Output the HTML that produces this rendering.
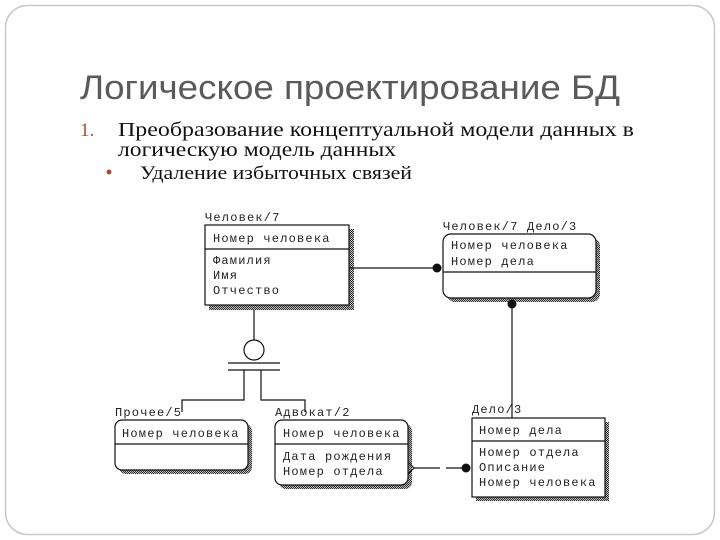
<!DOCTYPE html>
<html><head><meta charset="utf-8"><style>
html,body{margin:0;padding:0;background:#fff;}
svg{display:block}
.m{font-family:"Liberation Mono",monospace;font-size:12px;letter-spacing:1.2px;fill:#222}
</style></head><body>
<svg width="720" height="540" viewBox="0 0 720 540" xmlns="http://www.w3.org/2000/svg">
<defs>
<pattern id="sh" width="2" height="2" patternUnits="userSpaceOnUse"><rect width="2" height="2" fill="#bbb"/><rect width="1" height="1" fill="#333"/><rect x="1" y="1" width="1" height="1" fill="#333"/></pattern>
</defs>
<rect x="5.5" y="5.5" width="709" height="529" rx="22" fill="#fff" stroke="#c8c8c8" stroke-width="1.5"/>
<text x="80" y="99" font-family="Liberation Sans,sans-serif" font-size="34" fill="#5a5a5a" textLength="540" lengthAdjust="spacingAndGlyphs">Логическое проектирование БД</text>
<text x="80" y="136" font-family="Liberation Serif,serif" font-size="19" fill="#a0522d">1.</text>
<text x="118" y="136" font-family="Liberation Serif,serif" font-size="20" fill="#111" textLength="516" lengthAdjust="spacingAndGlyphs">Преобразование концептуальной модели данных в</text>
<text x="118" y="156" font-family="Liberation Serif,serif" font-size="20" fill="#111" textLength="278" lengthAdjust="spacingAndGlyphs">логическую модель данных</text>
<circle cx="109" cy="172" r="2.5" fill="#a0522d"/>
<text x="140" y="179" font-family="Liberation Serif,serif" font-size="19" fill="#111" textLength="272" lengthAdjust="spacingAndGlyphs">Удаление избыточных связей</text>

<g stroke="#111" stroke-width="1.2" fill="none">
<rect x="349" y="229" width="5" height="81" fill="url(#sh)" stroke="none"/>
<rect x="209" y="305" width="145" height="5" fill="url(#sh)" stroke="none"/>
<rect x="205" y="225" width="144" height="80" fill="#fff"/>
<line x1="205" y1="249" x2="349" y2="249"/>
<rect x="447" y="238" width="153" height="64" rx="8" fill="url(#sh)" stroke="none"/>
<rect x="443" y="234" width="153" height="64" rx="8" fill="#fff"/>
<line x1="443" y1="272" x2="596" y2="272"/>
<line x1="349" y1="268" x2="437" y2="268"/>
<line x1="512" y1="303" x2="512" y2="418"/>
<rect x="476" y="422" width="133" height="79" fill="url(#sh)" stroke="none"/>
<rect x="472" y="418" width="133" height="79" fill="#fff"/>
<line x1="472" y1="441" x2="605" y2="441"/>
<line x1="254" y1="310" x2="254" y2="340"/>
<circle cx="254" cy="350" r="10" fill="#fff"/>
<line x1="228" y1="363" x2="280" y2="363"/>
<line x1="228" y1="370" x2="280" y2="370"/>
<polyline points="244,370 244,400 182,400 182,412"/>
<polyline points="261,370 261,400 305,400 305,412"/>
<rect x="119" y="424" width="133" height="50" rx="7" fill="url(#sh)" stroke="none"/>
<rect x="115" y="420" width="133" height="50" rx="7" fill="#fff"/>
<line x1="115" y1="444" x2="248" y2="444"/>
<rect x="279" y="424" width="133" height="65" rx="7" fill="url(#sh)" stroke="none"/>
<rect x="275" y="420" width="133" height="65" rx="7" fill="#fff"/>
<line x1="275" y1="444" x2="408" y2="444"/>
<polyline points="408,462 414,468 408,474"/>
<line x1="414" y1="468" x2="440" y2="468"/>
<line x1="446" y1="468" x2="466" y2="468"/>
</g>
<circle cx="437" cy="268" r="4.5" fill="#111"/>
<circle cx="512" cy="304" r="4.5" fill="#111"/>
<circle cx="466" cy="468" r="4.5" fill="#111"/>

<text class="m" x="205" y="221">Человек/7</text>
<text class="m" x="213" y="242">Номер человека</text>
<text class="m" x="213" y="264">Фамилия</text>
<text class="m" x="213" y="279">Имя</text>
<text class="m" x="213" y="294">Отчество</text>
<text class="m" x="443" y="230">Человек/7 Дело/3</text>
<text class="m" x="451" y="249">Номер человека</text>
<text class="m" x="451" y="265">Номер дела</text>
<text class="m" x="472" y="413">Дело/3</text>
<text class="m" x="479" y="434">Номер дела</text>
<text class="m" x="479" y="456">Номер отдела</text>
<text class="m" x="479" y="471">Описание</text>
<text class="m" x="479" y="486">Номер человека</text>
<text class="m" x="115" y="416">Прочее/5</text>
<text class="m" x="122" y="437">Номер человека</text>
<text class="m" x="275" y="416">Адвокат/2</text>
<text class="m" x="283" y="437">Номер человека</text>
<text class="m" x="283" y="460">Дата рождения</text>
<text class="m" x="283" y="475">Номер отдела</text>
</svg>
</body></html>
